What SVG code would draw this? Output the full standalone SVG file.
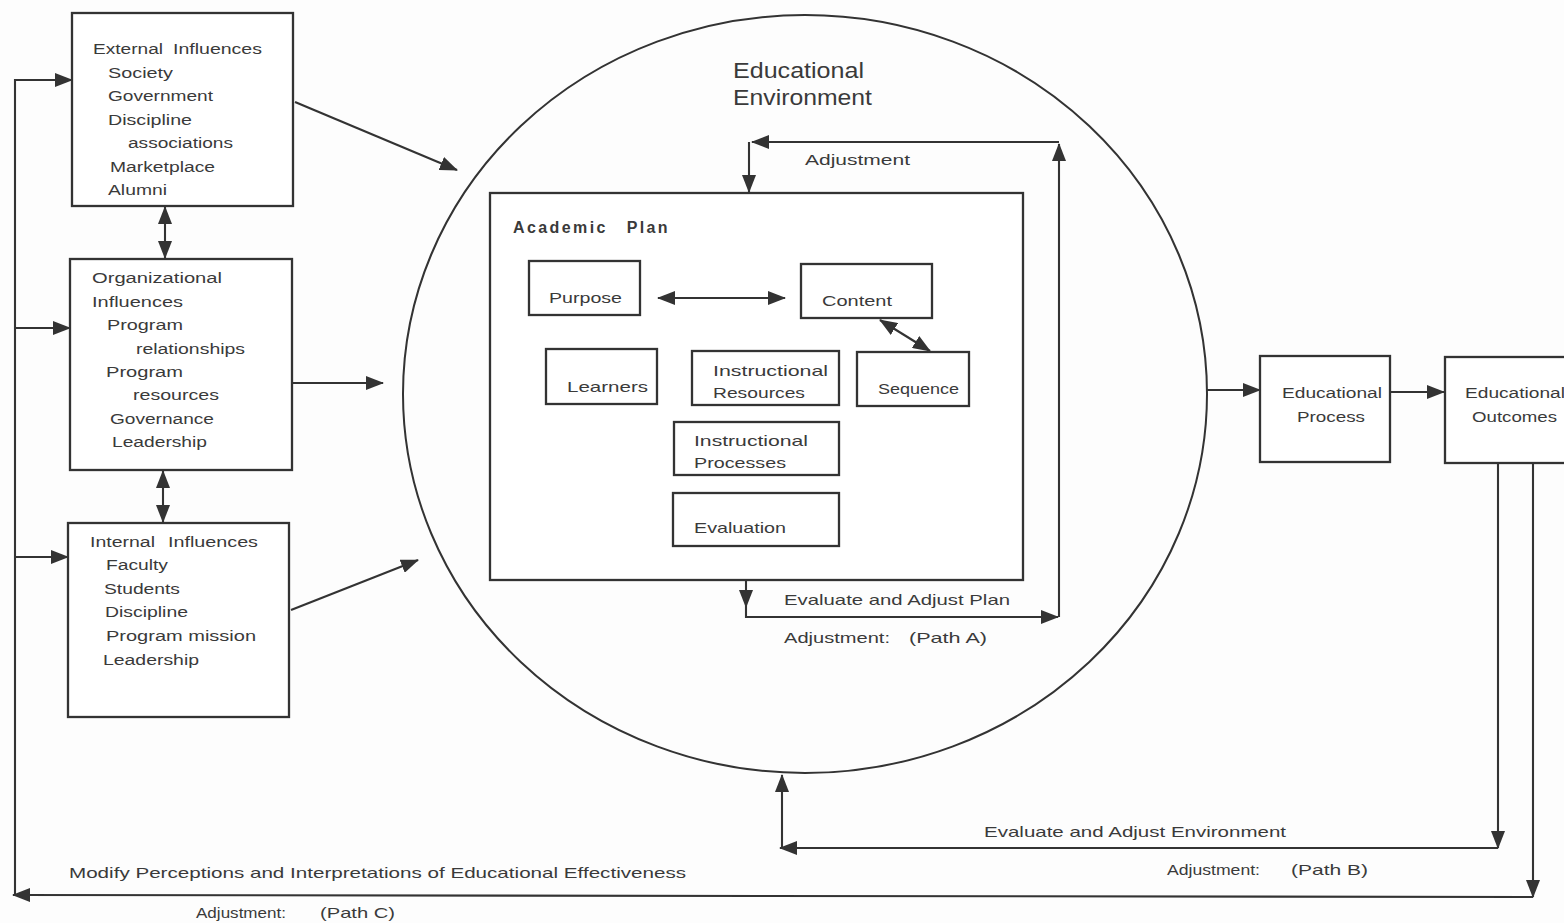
<svg xmlns="http://www.w3.org/2000/svg" width="1564" height="923" viewBox="0 0 1564 923">
  <style>
    .box { fill: #ffffff; stroke: #333333; stroke-width: 2.3; }
    .env { fill: none; stroke: #333333; stroke-width: 2; }
    .t { font-family: "Liberation Sans", Arial, sans-serif; font-size: 15.5px; fill: #3a3a3a; }
    .s { font-family: "Liberation Sans", Arial, sans-serif; font-size: 15px; fill: #3a3a3a; }
    .b { font-family: "Liberation Sans", Arial, sans-serif; font-size: 16px; font-weight: bold; fill: #3a3a3a; letter-spacing: 2.4px; word-spacing: 12px; }
    .big { font-family: "Liberation Sans", Arial, sans-serif; font-size: 22px; fill: #3a3a3a; }
    .c { fill: none; stroke: #333333; stroke-width: 2.1; }
    .a { marker-end: url(#ah); }
    .d { marker-start: url(#ah); marker-end: url(#ah); }
  </style>
  <defs>
    <marker id="ah" viewBox="0 0 18 14" refX="17" refY="7" markerWidth="18" markerHeight="14" markerUnits="userSpaceOnUse" orient="auto-start-reverse">
      <path d="M0,0 L18,7 L0,14 z" fill="#333333"/>
    </marker>
  </defs>

  <rect x="0" y="0" width="1564" height="923" fill="#fdfdfd"/>

  <!-- educational environment -->
  <g id="environment">
    <ellipse class="env" cx="805" cy="394" rx="402" ry="379"/>
    <text class="big" x="733" y="78" textLength="131" lengthAdjust="spacingAndGlyphs">Educational</text>
    <text class="big" x="733" y="105" textLength="139" lengthAdjust="spacingAndGlyphs">Environment</text>
  </g>

  <!-- influence boxes -->
  <g id="external">
    <rect class="box" x="72" y="13" width="221" height="193"/>
    <text class="t" y="54"><tspan x="93" textLength="70" lengthAdjust="spacingAndGlyphs">External</tspan> <tspan x="173" textLength="89" lengthAdjust="spacingAndGlyphs">Influences</tspan></text>
    <text class="t" x="108" y="77.5" textLength="65" lengthAdjust="spacingAndGlyphs">Society</text>
    <text class="t" x="108" y="101" textLength="105" lengthAdjust="spacingAndGlyphs">Government</text>
    <text class="t" x="108" y="124.5" textLength="84" lengthAdjust="spacingAndGlyphs">Discipline</text>
    <text class="t" x="128" y="148" textLength="105" lengthAdjust="spacingAndGlyphs">associations</text>
    <text class="t" x="110" y="171.5" textLength="105" lengthAdjust="spacingAndGlyphs">Marketplace</text>
    <text class="t" x="108" y="195" textLength="59" lengthAdjust="spacingAndGlyphs">Alumni</text>
  </g>

  <g id="organizational">
    <rect class="box" x="70" y="259" width="222" height="211"/>
    <text class="t" x="92" y="283" textLength="130" lengthAdjust="spacingAndGlyphs">Organizational</text>
    <text class="t" x="92" y="306.5" textLength="91" lengthAdjust="spacingAndGlyphs">Influences</text>
    <text class="t" x="107" y="330" textLength="76" lengthAdjust="spacingAndGlyphs">Program</text>
    <text class="t" x="136" y="353.5" textLength="109" lengthAdjust="spacingAndGlyphs">relationships</text>
    <text class="t" x="106" y="377" textLength="77" lengthAdjust="spacingAndGlyphs">Program</text>
    <text class="t" x="133" y="400" textLength="86" lengthAdjust="spacingAndGlyphs">resources</text>
    <text class="t" x="110" y="423.5" textLength="104" lengthAdjust="spacingAndGlyphs">Governance</text>
    <text class="t" x="112" y="447" textLength="95" lengthAdjust="spacingAndGlyphs">Leadership</text>
  </g>

  <g id="internal">
    <rect class="box" x="68" y="523" width="221" height="194"/>
    <text class="t" y="547"><tspan x="90" textLength="65" lengthAdjust="spacingAndGlyphs">Internal</tspan> <tspan x="168" textLength="90" lengthAdjust="spacingAndGlyphs">Influences</tspan></text>
    <text class="t" x="106" y="570" textLength="62" lengthAdjust="spacingAndGlyphs">Faculty</text>
    <text class="t" x="104" y="593.5" textLength="76" lengthAdjust="spacingAndGlyphs">Students</text>
    <text class="t" x="105" y="617" textLength="83" lengthAdjust="spacingAndGlyphs">Discipline</text>
    <text class="t" x="106" y="641" textLength="150" lengthAdjust="spacingAndGlyphs">Program mission</text>
    <text class="t" x="103" y="664.5" textLength="96" lengthAdjust="spacingAndGlyphs">Leadership</text>
  </g>

  <!-- academic plan and its elements -->
  <g id="academic-plan">
    <rect class="box" x="490" y="193" width="533" height="387"/>
    <text class="b" x="513" y="233">Academic Plan</text>
  </g>
  <g id="purpose">
    <rect class="box" x="529" y="261" width="111" height="54"/>
    <text class="s" x="549" y="303" textLength="73" lengthAdjust="spacingAndGlyphs">Purpose</text>
  </g>
  <g id="content">
    <rect class="box" x="801" y="264" width="131" height="54"/>
    <text class="s" x="822" y="306" textLength="70" lengthAdjust="spacingAndGlyphs">Content</text>
  </g>
  <g id="learners">
    <rect class="box" x="546" y="349" width="111" height="55"/>
    <text class="s" x="567" y="392" textLength="81" lengthAdjust="spacingAndGlyphs">Learners</text>
  </g>
  <g id="instructional-resources">
    <rect class="box" x="692" y="351" width="147" height="54"/>
    <text class="s" x="713" y="376" textLength="115" lengthAdjust="spacingAndGlyphs">Instructional</text>
    <text class="s" x="713" y="398" textLength="92" lengthAdjust="spacingAndGlyphs">Resources</text>
  </g>
  <g id="sequence">
    <rect class="box" x="857" y="352" width="112" height="54"/>
    <text class="s" x="878" y="394" textLength="81" lengthAdjust="spacingAndGlyphs">Sequence</text>
  </g>
  <g id="instructional-processes">
    <rect class="box" x="674" y="422" width="165" height="53"/>
    <text class="s" x="694" y="446" textLength="114" lengthAdjust="spacingAndGlyphs">Instructional</text>
    <text class="s" x="694" y="468" textLength="92" lengthAdjust="spacingAndGlyphs">Processes</text>
  </g>
  <g id="evaluation">
    <rect class="box" x="673" y="493" width="166" height="53"/>
    <text class="s" x="694" y="533" textLength="92" lengthAdjust="spacingAndGlyphs">Evaluation</text>
  </g>

  <!-- process and outcomes -->
  <g id="educational-process">
    <rect class="box" x="1260" y="356" width="130" height="106"/>
    <text class="t" x="1282" y="398" textLength="100" lengthAdjust="spacingAndGlyphs">Educational</text>
    <text class="t" x="1297" y="422" textLength="68" lengthAdjust="spacingAndGlyphs">Process</text>
  </g>
  <g id="educational-outcomes">
    <rect class="box" x="1445" y="357" width="140" height="106"/>
    <text class="t" x="1465" y="398" textLength="100" lengthAdjust="spacingAndGlyphs">Educational</text>
    <text class="t" x="1472" y="422" textLength="85" lengthAdjust="spacingAndGlyphs">Outcomes</text>
  </g>

  <!-- connectors -->
  <g id="connectors">
    <!-- influences into the environment -->
    <path class="c a" d="M295,102 L457,170"/>
    <path class="c a" d="M292,383 L383,383"/>
    <path class="c a" d="M291,610 L418,560"/>
    <path class="c d" d="M165,207 V258"/>
    <path class="c d" d="M163,471 V522"/>

    <!-- feedback rail on the left -->
    <path class="c a" d="M15,896 V80 H72"/>
    <path class="c a" d="M15,328 H70"/>
    <path class="c a" d="M15,557 H68"/>

    <!-- inside the plan -->
    <path class="c d" d="M658,298 H785"/>
    <path class="c d" d="M880,320 L930,351"/>

    <!-- path A loop -->
    <path class="c a" d="M746,580 V607"/>
    <path class="c a" d="M746,607 V617 H1058"/>
    <path class="c a" d="M1059,617 V144"/>
    <path class="c a" d="M1059,142 H752"/>
    <path class="c a" d="M749,142 V192"/>

    <!-- environment to process to outcomes -->
    <path class="c a" d="M1207,390 H1260"/>
    <path class="c a" d="M1390,392 H1444"/>

    <!-- path B loop -->
    <path class="c a" d="M1498,463 V848"/>
    <path class="c a" d="M1498,848 H780"/>
    <path class="c a" d="M782,848 V775"/>

    <!-- path C loop -->
    <path class="c a" d="M1533,463 V897"/>
    <path class="c a" d="M1533,897 L13,895"/>
  </g>

  <!-- connector labels -->
  <g id="labels">
    <text class="s" x="805" y="165" textLength="105" lengthAdjust="spacingAndGlyphs">Adjustment</text>
    <text class="s" x="784" y="605" textLength="226" lengthAdjust="spacingAndGlyphs">Evaluate and Adjust Plan</text>
    <text class="s" y="643"><tspan x="784" textLength="106" lengthAdjust="spacingAndGlyphs">Adjustment:</tspan> <tspan x="909" textLength="78" lengthAdjust="spacingAndGlyphs">(Path A)</tspan></text>
    <text class="s" x="984" y="837" textLength="302" lengthAdjust="spacingAndGlyphs">Evaluate and Adjust Environment</text>
    <text class="s" y="875"><tspan x="1167" textLength="93" lengthAdjust="spacingAndGlyphs">Adjustment:</tspan> <tspan x="1291" textLength="77" lengthAdjust="spacingAndGlyphs">(Path B)</tspan></text>
    <text class="s" x="69" y="878" textLength="617" lengthAdjust="spacingAndGlyphs">Modify Perceptions and Interpretations of Educational Effectiveness</text>
    <text class="s" y="918"><tspan x="196" textLength="90" lengthAdjust="spacingAndGlyphs">Adjustment:</tspan> <tspan x="320" textLength="75" lengthAdjust="spacingAndGlyphs">(Path C)</tspan></text>
  </g>
</svg>
